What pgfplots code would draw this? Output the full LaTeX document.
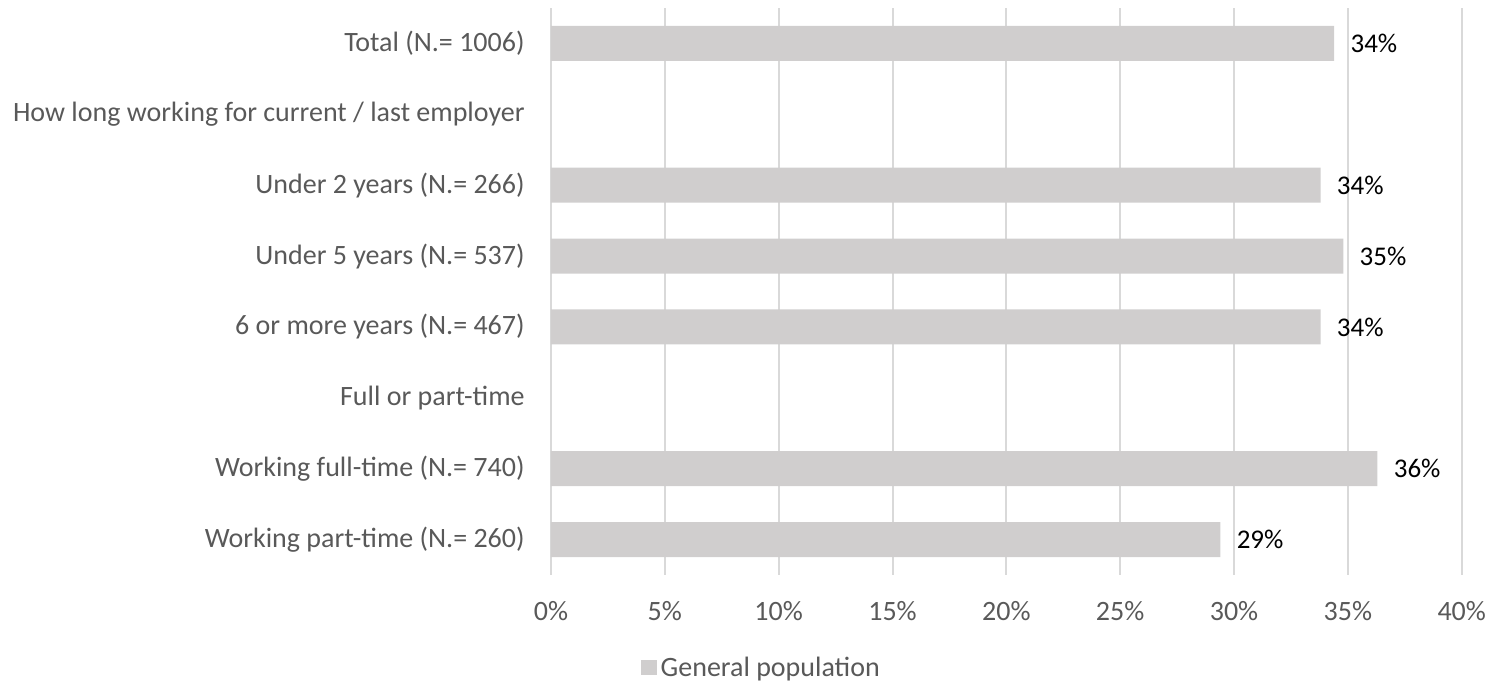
\documentclass[border=0pt]{standalone}
\usepackage{pgfplots}
\pgfplotsset{compat=1.18}
\usepackage{fontspec}
\setmainfont{Carlito}
\definecolor{barcol}{HTML}{D0CECE}
\definecolor{gridcol}{HTML}{D9D9D9}
\definecolor{labcol}{HTML}{595959}
\begin{document}
\begin{tikzpicture}
\path[use as bounding box] (-275.5bp,-54bp) rectangle (469bp,287.5bp);
\begin{axis}[
    at={(0,0)}, anchor=south west,
    scale only axis, width=455.35bp, height=283.5bp,
    /pgf/number format/assume math mode=true,
    xbar, bar width=17.5bp,
    xmin=0, xmax=40, ymin=-0.5, ymax=7.5, y dir=reverse,
    xtick={0,5,...,40},
    xticklabel={\pgfmathprintnumber{\tick}\%},
    ytick={0,...,7},
    yticklabels={Total (N.= 1006), How long working for current / last employer,
      Under 2 years (N.= 266), Under 5 years (N.= 537), 6 or more years (N.= 467),
      Full or part-time, Working full-time (N.= 740), Working part-time (N.= 260)},
    xmajorgrids, grid style={gridcol, line width=1bp},
    axis line style={draw=none}, major tick length=0pt,
    tick label style={font=\fontsize{14bp}{16bp}\selectfont, text=labcol},
    yticklabel style={inner sep=0pt, xshift=-13bp},
    xticklabel style={inner sep=0pt, yshift=-13bp},
    nodes near coords={\pgfmathprintnumber[fixed,precision=0]{\pgfplotspointmeta}\%},
    every node near coord/.append style={font=\fontsize{13.5bp}{15bp}\selectfont, text=black, inner sep=0pt, xshift=8bp},
    area legend,
    legend image code/.code={\fill[barcol] (0bp,-3.75bp) rectangle (8bp,3.75bp);},
    legend style={at={(0.232,-0.164)}, anchor=center, draw=none,
      font=\fontsize{14bp}{16bp}\selectfont, text=labcol,
      nodes={inner sep=2bp}, /tikz/every even column/.append style={column sep=1.5bp}},
]
\addplot[fill=barcol, draw=none] coordinates {
    (34.4,0) (33.8,2) (34.8,3) (33.8,4) (36.3,6) (29.4,7)
};
\legend{General population}
\end{axis}
\end{tikzpicture}
\end{document}
